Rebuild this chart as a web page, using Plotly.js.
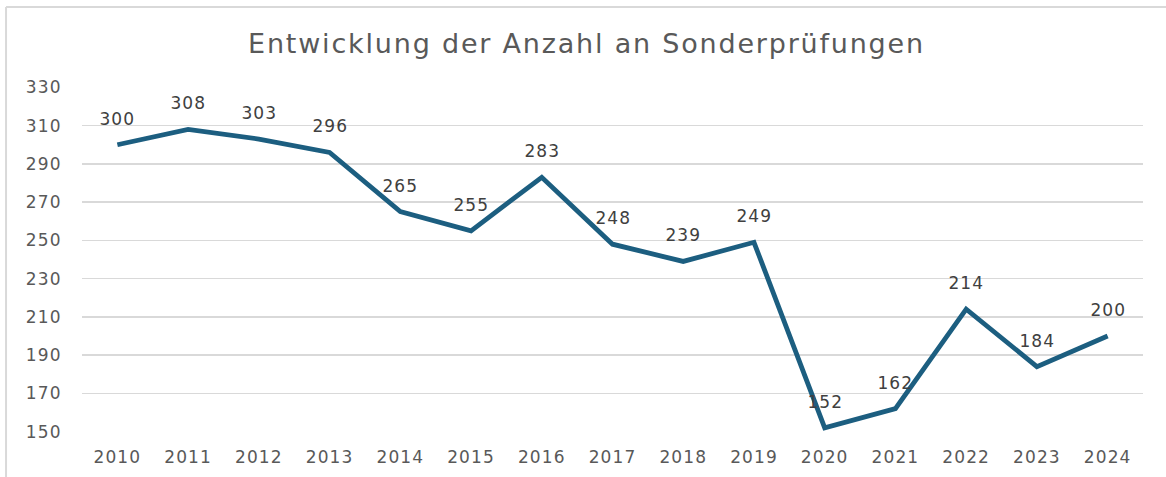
<!DOCTYPE html>
<html>
<head>
<meta charset="utf-8">
<script src="https://cdn.plot.ly/plotly-3.0.1.min.js"></script>
<style>
html,body{margin:0;padding:0;background:#fff;}
#chart{width:1166px;height:477px;}
#chart .gtitle{letter-spacing:1.8px;}
#chart .xtick text, #chart .ytick text{letter-spacing:1.1px;}
#chart .annotation-text{letter-spacing:1px;}
</style>
</head>
<body>
<div id="chart"></div>
<script>
const years = ["2010","2011","2012","2013","2014","2015","2016","2017","2018","2019","2020","2021","2022","2023","2024"];
const counts = [300,308,303,296,265,255,283,248,239,249,152,162,214,184,200];
const yTicks = [150,170,190,210,230,250,270,290,310,330];
const chartTitle = "Entwicklung der Anzahl an Sonderprüfungen";

const FONT = "DejaVu Sans, Verdana, sans-serif";

const trace = {
  x: years, y: counts, type: "scatter", mode: "lines",
  line: {color: "#1c5e80", width: 4.8}, hoverinfo: "skip"
};

const annotations = counts.map((v, i) => ({
  x: i, y: v, xref: "x", yref: "y", text: String(v),
  showarrow: false, yshift: 26, xanchor: "center", yanchor: "middle",
  font: {family: FONT, size: 17, color: "#404040"}
}));

const layout = {
  width: 1166, height: 477,
  margin: {l: 82, r: 23, t: 87, b: 45},
  paper_bgcolor: "#ffffff", plot_bgcolor: "#ffffff",
  showlegend: false,
  title: {text: chartTitle, x: 0.503, xanchor: "center", y: 0.909, yanchor: "middle",
          font: {family: FONT, size: 27, color: "#595959"}},
  xaxis: {type: "category", range: [-0.5, 14.5], showgrid: false, zeroline: false, showline: false,
          ticks: "outside", ticklen: 10, tickcolor: "rgba(0,0,0,0)",
          tickfont: {family: FONT, size: 17, color: "#595959"}},
  yaxis: {range: [149.8, 330.2], tickvals: yTicks, ticktext: yTicks.map(String),
          showgrid: true, gridcolor: "#d9d9d9", gridwidth: 1.5, zeroline: false, showline: false,
          ticks: "outside", ticklen: 16, tickcolor: "rgba(0,0,0,0)",
          tickfont: {family: FONT, size: 17, color: "#595959"}},
  annotations: annotations,
  shapes: [
    {type: "line", xref: "paper", yref: "paper", x0: -0.0716, x1: 1.03, y0: 1.2319, y1: 1.2319, line: {color: "#d9d9d9", width: 2}},
    {type: "line", xref: "paper", yref: "paper", x0: -0.0716, x1: -0.0716, y0: 1.2319, y1: -0.14, line: {color: "#d9d9d9", width: 2}}
  ]
};

Plotly.newPlot("chart", [trace], layout, {displayModeBar: false, staticPlot: true});
</script>
</body>
</html>
